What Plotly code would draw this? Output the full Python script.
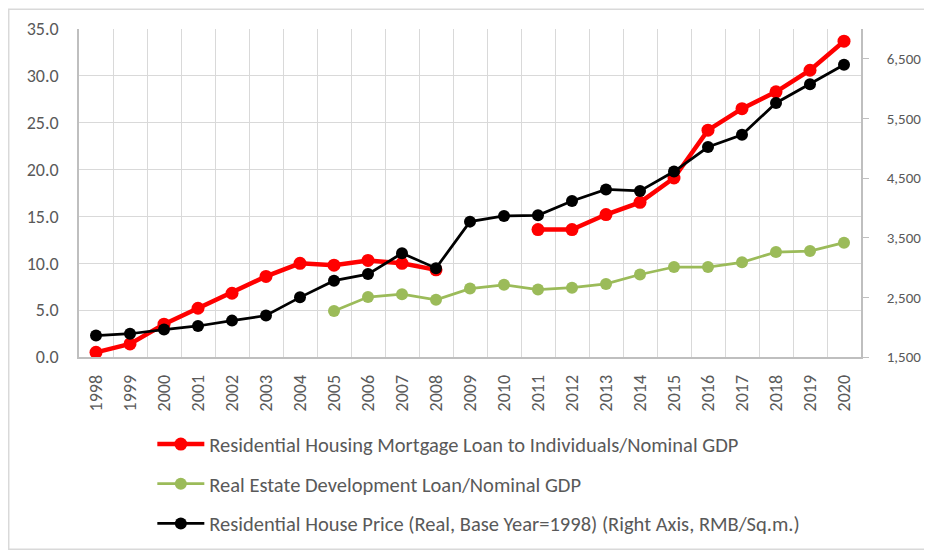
import plotly.graph_objects as go

years = [str(y) for y in range(1998, 2021)]

mortgage_loan_gdp = [0.5, 1.4, 3.5, 5.2, 6.8, 8.6, 10.0, 9.8, 10.3, 10.0, 9.3,
                     None, None, 13.6, 13.6, 15.2, 16.5, 19.1, 24.2, 26.5, 28.3, 30.6, 33.7]
dev_loan_gdp = [None, None, None, None, None, None, None, 4.9, 6.4, 6.7, 6.1,
                7.3, 7.7, 7.2, 7.4, 7.8, 8.8, 9.6, 9.6, 10.1, 11.2, 11.3, 12.2]
house_price = [1860, 1890, 1960, 2020, 2110, 2195, 2500, 2780, 2890, 3240, 2990,
               3770, 3865, 3875, 4115, 4310, 4285, 4610, 5020, 5225, 5760, 6075, 6400]

names = [
    "Residential Housing Mortgage Loan to Individuals/Nominal GDP",
    "Real Estate Development Loan/Nominal GDP",
    "Residential House Price (Real, Base Year=1998) (Right Axis, RMB/Sq.m.)",
]

FONT = "Carlito, Calibri, Lato, sans-serif"
GRAY = "#595959"
GRID = "#d9d9d9"

# plot-area geometry in figure pixels
L, R, T, B = 71, 79.3, 20.5, 203.3
W, H = 932, 552
PW, PH = W - L - R, H - T - B

fig = go.Figure()
fig.add_trace(go.Scatter(
    x=years, y=mortgage_loan_gdp, name=names[0], mode="lines+markers",
    line=dict(color="#ff0000", width=4.5), marker=dict(size=13, color="#ff0000"),
    connectgaps=False, legendgroup="a"))
fig.add_trace(go.Scatter(
    x=years, y=dev_loan_gdp, name=names[1], mode="lines+markers",
    line=dict(color="#9bbb59", width=2.75), marker=dict(size=12, color="#9bbb59"),
    connectgaps=False, legendgroup="b"))
fig.add_trace(go.Scatter(
    x=years, y=house_price, name=names[2], mode="lines+markers", yaxis="y2",
    line=dict(color="#000000", width=2.75), marker=dict(size=12, color="#000000"),
    legendgroup="c"))

fig.update_layout(
    width=W, height=H,
    margin=dict(l=L, r=R, t=T, b=B, autoexpand=False),
    paper_bgcolor="white", plot_bgcolor="white",
    font=dict(family=FONT, color=GRAY, size=18),
    showlegend=True,
    legend=dict(
        x=(144.3 - L) / PW, y=(T + PH - 416) / PH, xanchor="left", yanchor="top",
        orientation="v", tracegroupgap=10,
        font=dict(family=FONT, size=20.5, color=GRAY),
        bgcolor="rgba(0,0,0,0)", itemwidth=47,
    ),
    xaxis=dict(
        type="category", tickson="boundaries", showgrid=True, gridcolor=GRID, gridwidth=1.3,
        showline=True, linecolor="#bfbfbf", linewidth=1.5, ticks="",
        tickangle=-90, tickfont=dict(size=18, color=GRAY), range=[-0.5, 22.5],
        ticklabelstandoff=9,
    ),
    yaxis=dict(
        range=[0, 35], dtick=5, tickformat=".1f", showgrid=True, gridcolor=GRID, gridwidth=1.3,
        showline=True, linecolor="#bfbfbf", linewidth=1.5, ticks="", zeroline=False,
        tickfont=dict(size=18, color=GRAY), ticklabelstandoff=15,
    ),
    yaxis2=dict(
        overlaying="y", side="right", range=[1500, 7000], tick0=1500, dtick=1000,
        tickformat=",", showgrid=False, showline=True, linecolor="#bfbfbf", linewidth=1.5,
        ticks="outside", ticklen=6, tickcolor="#bfbfbf", zeroline=False,
        tickfont=dict(size=15, color=GRAY), ticklabelstandoff=15,
    ),
    shapes=[dict(
        type="rect", xref="paper", yref="paper",
        x0=(0.75 - L) / PW, x1=(920 - L) / PW,
        y0=(T + PH - 541) / PH, y1=(T + PH - 0.75) / PH,
        line=dict(color="#d9d9d9", width=1.5), fillcolor="rgba(0,0,0,0)", layer="below",
    )],
)

fig.write_html("out.html")
